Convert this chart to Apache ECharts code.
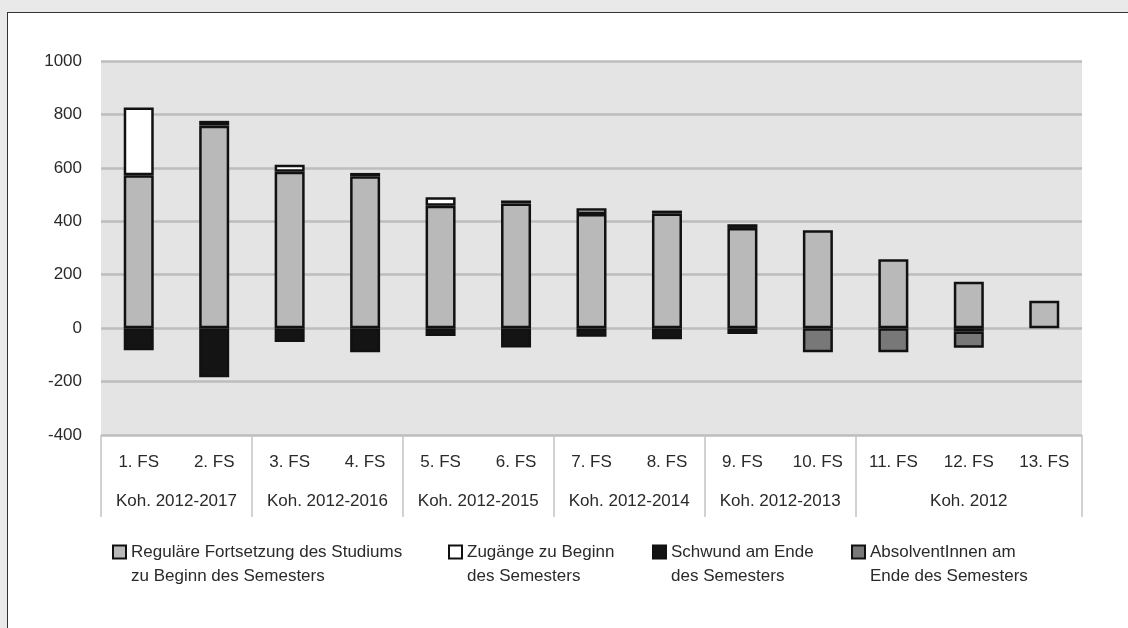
<!DOCTYPE html>
<html><head><meta charset="utf-8">
<script src="https://cdn.jsdelivr.net/npm/echarts@6/dist/echarts.min.js"></script>
<style>
html,body{margin:0;padding:0;background:#e9e9e9;width:1128px;height:628px;overflow:hidden;}
#frame{position:absolute;left:7px;top:12px;width:1121px;height:616px;background:#fff;border-left:1px solid #333;border-top:1px solid #333;}
#chart{position:absolute;left:0;top:0;width:1128px;height:628px;}
</style></head><body><div id="frame"></div><div id="chart"></div>
<script>
const categories = ['1. FS','2. FS','3. FS','4. FS','5. FS','6. FS','7. FS','8. FS','9. FS','10. FS','11. FS','12. FS','13. FS'];
const cohorts = ['Koh. 2012-2017','Koh. 2012-2016','Koh. 2012-2015','Koh. 2012-2014','Koh. 2012-2013','Koh. 2012'];
const cohortSizes = [2,2,2,2,2,3];
const seriesNames = [
  'Reguläre Fortsetzung des Studiums\nzu Beginn des Semesters',
  'Zugänge zu Beginn\ndes Semesters',
  'Schwund am Ende\ndes Semesters',
  'AbsolventInnen am\nEnde des Semesters'
];
const regular     = [572, 758, 585, 569, 458, 467, 427, 429, 375, 366, 258, 174, 103];
const zugaenge    = [254, 18, 27, 12, 32, 11, 22, 11, 14, null, null, null, null];
const schwund     = [-83, -184, -52, -90, -29, -72, -32, -42, -22, null, null, -13, null];
const absolventen = [null, null, null, null, null, null, null, null, null, -90, -90, -60, null];
const yMin = -400, yMax = 1000, yStep = 200;

const bounds = [0];
cohortSizes.forEach(s => bounds.push(bounds[bounds.length - 1] + s));
const centers = cohortSizes.map((s, i) => bounds[i] + s / 2);

const FONT = "'Liberation Sans', Arial, sans-serif";
const TXT = '#2a2a2a';
const colors = ['#b9b9b9', '#ffffff', '#141414', '#787878'];
const datas = [regular, zugaenge, schwund, absolventen];
const legendLeft = [112, 448, 652, 851];

const chart = echarts.init(document.getElementById('chart'), null, {renderer: 'canvas'});
const option = {
  backgroundColor: 'transparent',
  animation: false,
  textStyle: {fontFamily: FONT},
  grid: {left: 101, right: 46, top: 61, height: 374, show: true, backgroundColor: '#e4e4e4', borderWidth: 0},
  xAxis: [
    {
      type: 'category', data: categories, position: 'bottom',
      axisLine: {show: false}, axisTick: {show: false},
      axisLabel: {interval: 0, margin: 19, fontSize: 17, color: TXT, fontFamily: FONT}
    },
    {
      type: 'value', min: 0, max: bounds[bounds.length - 1], position: 'bottom',
      axisLine: {show: false}, splitLine: {show: false},
      axisTick: {show: true, customValues: bounds, length: 82, lineStyle: {color: '#c4c4c4', width: 1.5}},
      axisLabel: {
        customValues: centers, margin: 58, fontSize: 17, color: TXT, fontFamily: FONT,
        formatter: v => { const i = centers.findIndex(c => Math.abs(c - v) < 1e-6); return i >= 0 ? cohorts[i] : ''; }
      }
    }
  ],
  yAxis: {
    type: 'value', min: yMin, max: yMax, interval: yStep,
    axisLine: {show: false}, axisTick: {show: false},
    axisLabel: {margin: 19, fontSize: 17, color: TXT, fontFamily: FONT, formatter: v => String(v)},
    splitLine: {lineStyle: {color: '#bdbdbd', width: 2.5}}
  },
  legend: seriesNames.map((n, i) => ({
    data: [n], left: legendLeft[i], top: 516, padding: 0, orient: 'horizontal',
    itemWidth: 13, itemHeight: 13, itemGap: 0, icon: 'rect',
    selectedMode: false,
    formatter: name => '\n' + name,
    textStyle: {fontSize: 17, color: TXT, fontFamily: FONT, lineHeight: 24}
  })),
  series: seriesNames.map((n, i) => ({
    name: n, type: 'bar', stack: 'total', xAxisIndex: 0, barWidth: 30,
    data: datas[i],
    itemStyle: {color: colors[i], borderColor: '#111', borderWidth: 2.5}
  }))
};
chart.setOption(option);
</script></body></html>
